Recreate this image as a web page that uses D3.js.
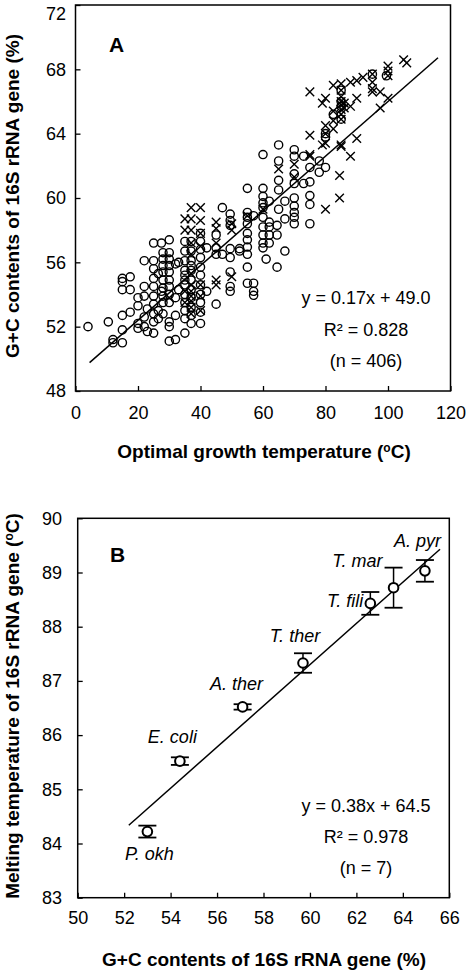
<!DOCTYPE html>
<html>
<head>
<meta charset="utf-8">
<script src="https://cdn.jsdelivr.net/npm/d3@7"></script>
<style>
  html, body { margin: 0; padding: 0; background: #fff; }
  text { font-family: "Liberation Sans", Arial, sans-serif; fill: #000; }
</style>
</head>
<body>
<script>
// ---------------- DATA ----------------
// Panel A: optimal growth temperature (°C) vs G+C content (%)
// open circles: [temperature, [G+C values ...]]
const circlesA = [
  [4, [52.0]],
  [10.5, [52.3]],
  [12, [51.0, 51.2]],
  [15, [51.0, 51.8, 52.7, 54.3, 54.8, 55.0]],
  [17.5, [52.9, 54.3, 55.1]],
  [20, [51.9, 52.2, 53.3, 53.8]],
  [22, [56.1, 54.5, 53.9, 52.6, 52.0]],
  [23, [51.7, 53.1]],
  [25, [57.2, 56.1, 55.6, 55.0, 54.5, 53.9, 53.4, 52.8, 52.3, 51.6]],
  [26.5, [53.0, 55.3, 52.5]],
  [27.5, [57.2, 54.2]],
  [28, [56.6, 56.2, 55.8, 55.4, 54.9, 54.4, 53.9, 53.5, 52.8]],
  [30, [57.4, 56.6, 56.2, 55.8, 55.4, 54.9, 54.5, 54.0, 53.5, 52.3, 52.0, 51.1]],
  [32, [51.2, 53.8, 52.7, 55.9]],
  [33, [56.0, 54.3]],
  [35, [57.3, 56.7, 56.1, 55.5, 54.9, 54.6, 54.0, 53.5, 53.0, 52.5, 51.6, 55.2]],
  [37, [57.3, 56.7, 56.1, 55.5, 54.9, 54.3, 53.8, 53.2, 52.7, 52.2, 55.8]],
  [40, [57.3, 56.8, 56.3, 55.7, 55.2, 54.6, 54.0, 53.5, 52.9, 52.2, 57.8]],
  [42, [56.9, 54.2]],
  [45, [57.7, 56.9, 53.4, 56.5]],
  [47, [59.4, 56.5]],
  [49.5, [59.0, 58.6, 58.3, 56.3, 55.4, 54.5, 54.2, 56.85]],
  [52.5, [56.85, 56.7]],
  [55, [60.6, 59.1, 58.8, 58.4, 57.8, 57.4, 56.95, 56.5, 55.7, 54.7]],
  [57, [58.9, 54.7, 54.2, 53.95]],
  [60, [62.7, 60.6, 60.1, 59.7, 59.4, 58.8, 58.2, 57.7, 57.2, 56.9]],
  [61, [56.2]],
  [62, [59.8, 58.5, 58.2, 57.7, 57.2]],
  [64.5, [55.7, 58.3, 57.7]],
  [65, [63.3, 62.3, 61.1, 60.5, 59.3]],
  [67, [59.8, 58.7, 56.7]],
  [70, [63.0, 62.6, 61.5, 60.9, 60.0, 59.5, 59.1, 58.8, 58.4]],
  [73, [62.6, 60.9]],
  [75, [61.9, 61.0, 60.15, 59.6, 58.4]],
  [78, [62.3, 61.6]],
  [80, [61.9, 64.0, 63.8]],
  [82.5, [65.2]],
  [85, [66.7, 64.9, 65.7, 66.0]],
  [95, [67.7]],
  [99.5, [67.6]]
];
// crosses: [temperature, [G+C values ...]]
const crossesA = [
  [30, [53.8]],
  [35, [58.7, 58.0, 54.2, 53.5]],
  [37, [59.4, 58.7, 58.0, 57.2, 56.5, 55.3, 54.6, 54.2, 53.9, 53.6, 53.2, 52.8]],
  [40, [59.4, 58.6, 57.8, 57.0, 54.6, 53.9, 53.0]],
  [45, [58.5, 58.1, 57.2, 54.6, 54.9]],
  [50, [58.4, 58.0, 55.1]],
  [55, [58.9]],
  [60, [59.3]],
  [65, [61.8]],
  [70, [61.3, 62.1]],
  [75, [66.6, 63.9, 62.7, 62.6]],
  [79, [65.9, 63.3]],
  [80, [64.0, 64.5, 59.3, 66.2, 63.4]],
  [82.5, [65.4, 64.8, 64.3, 67.0]],
  [84.5, [61.4, 60.0]],
  [85, [67.1, 66.0, 65.8, 65.5, 65.2, 66.3, 63.3, 63.2, 64.9, 66.7]],
  [86, [65.9, 65.6]],
  [88, [67.2, 62.6, 65.7]],
  [90, [67.3, 63.7, 66.2]],
  [92, [67.5]],
  [95, [67.7, 66.6, 67.2, 66.8]],
  [97.5, [66.6, 65.6]],
  [100, [68.2, 67.6, 66.2, 67.9]],
  [105, [68.6]],
  [106, [68.4]]
];
const fitA = { slope: 0.17, intercept: 49.0, xFrom: 4.5, xTo: 116 };
const statsA = ["y = 0.17x + 49.0", "R\u00B2 = 0.828", "(n = 406)"];
const xTicksA = [0, 20, 40, 60, 80, 100, 120];
const yTicksA = [48, 52, 56, 60, 64, 68, 72];

// Panel B: G+C content (%) vs melting temperature (°C) of 16S rRNA gene
const namesB = ["P. okh", "E. coli", "A. ther", "T. ther", "T. fili", "T. mar", "A. pyr"];
const gcB    = [53.0, 54.4, 57.1, 59.7, 62.6, 63.6, 64.95];
const tmB    = [84.22, 85.52, 86.52, 87.33, 88.43, 88.72, 89.03];
const errB   = [0.11, 0.07, 0.05, 0.18, 0.21, 0.37, 0.20];
const fitB = { slope: 0.38, intercept: 64.5, xFrom: 52.2, xTo: 65.6 };
const statsB = ["y = 0.38x + 64.5", "R\u00B2 = 0.978", "(n = 7)"];
const xTicksB = [50, 52, 54, 56, 58, 60, 62, 64, 66];
const yTicksB = [83, 84, 85, 86, 87, 88, 89, 90];

// ---------------- LAYOUT ----------------
// label placement relative to each point (px): [dx, dy, anchor]
const labelPosB = [
  [2, 28, "middle"], [-7.5, -18, "middle"], [-6, -17, "middle"], [-8, -21, "middle"],
  [-7, 4, "end"], [-11, -21, "end"], [-7.5, -24, "middle"]
];

const svg = d3.select("body").append("svg")
  .attr("width", 466).attr("height", 973);

const xA = d3.scaleLinear().domain([0, 120]).range([75.5, 450.5]);
const yA = d3.scaleLinear().domain([48, 72]).range([391, 5]);
const xB = d3.scaleLinear().domain([50, 66]).range([77.7, 449.3]);
const yB = d3.scaleLinear().domain([83, 90]).range([897.7, 518.3]);

function drawAxes(x, y, xt, yt, xPad, yPad) {
  const [x0, x1] = x.range();
  const [y0, y1] = y.range();
  const fmt = d3.format("d");
  const gx = svg.append("g").attr("transform", `translate(0,${y0})`)
    .call(d3.axisBottom(x).tickValues(xt).tickFormat(fmt).tickSizeInner(-5).tickSizeOuter(0).tickPadding(xPad));
  const gy = svg.append("g").attr("transform", `translate(${x0},0)`)
    .call(d3.axisLeft(y).tickValues(yt).tickFormat(fmt).tickSizeInner(-5).tickSizeOuter(0).tickPadding(yPad));
  [gx, gy].forEach(g => {
    g.select(".domain").remove();
    g.selectAll(".tick line").attr("stroke", "#000").attr("stroke-width", 1.3);
    g.selectAll(".tick text").attr("font-size", 18).attr("font-family", "Liberation Sans, Arial, sans-serif").attr("fill", "#000");
  });
  svg.append("rect").attr("x", x0).attr("y", y1).attr("width", x1 - x0).attr("height", y0 - y1)
    .attr("fill", "none").attr("stroke", "#000").attr("stroke-width", 1.5);
  return gy;
}

// ---------------- PANEL A ----------------
const gyA = drawAxes(xA, yA, xTicksA, yTicksA, 15, 9.5);
// the top label sits slightly lower so it stays inside the figure
gyA.selectAll(".tick text").filter(d => d === 72).attr("dy", "0.32em").attr("y", 9);

const ptsC = circlesA.flatMap(([t, arr]) => arr.map(g => [t, g]));
const ptsX = crossesA.flatMap(([t, arr]) => arr.map(g => [t, g]));

svg.append("g").selectAll("circle").data(ptsC).join("circle")
  .attr("cx", d => xA(d[0])).attr("cy", d => yA(d[1])).attr("r", 4.1)
  .attr("fill", "none").attr("stroke", "#000").attr("stroke-width", 1.4);

svg.append("g").selectAll("path").data(ptsX).join("path")
  .attr("transform", d => `translate(${xA(d[0])},${yA(d[1])})`)
  .attr("d", "M-4.3,-4.3L4.3,4.3M-4.3,4.3L4.3,-4.3")
  .attr("stroke", "#000").attr("stroke-width", 1.4).attr("fill", "none");

svg.append("line")
  .attr("x1", xA(fitA.xFrom)).attr("y1", yA(fitA.slope * fitA.xFrom + fitA.intercept))
  .attr("x2", xA(fitA.xTo)).attr("y2", yA(fitA.slope * fitA.xTo + fitA.intercept))
  .attr("stroke", "#000").attr("stroke-width", 1.5);

svg.append("text").attr("x", 109).attr("y", 52).attr("font-size", 21).attr("font-weight", "bold").text("A");

statsA.forEach((s, i) => {
  svg.append("text").attr("x", 366).attr("y", 304 + i * 31.5).attr("text-anchor", "middle")
    .attr("font-size", 18).text(s);
});

// titles A
const xtA = svg.append("text").attr("x", 264).attr("y", 458).attr("text-anchor", "middle")
  .attr("font-size", 19).attr("font-weight", "bold");
xtA.append("tspan").text("Optimal growth temperature (");
xtA.append("tspan").attr("font-size", 12).attr("dy", -6).text("o");
xtA.append("tspan").attr("dy", 6).text("C)");

svg.append("text").attr("transform", "translate(19,196) rotate(-90)").attr("text-anchor", "middle")
  .attr("font-size", 19).attr("font-weight", "bold").text("G+C contents of 16S rRNA gene (%)");

// ---------------- PANEL B ----------------
drawAxes(xB, yB, xTicksB, yTicksB, 13.5, 15.7);

svg.append("line")
  .attr("x1", xB(fitB.xFrom)).attr("y1", yB(fitB.slope * fitB.xFrom + fitB.intercept))
  .attr("x2", xB(fitB.xTo)).attr("y2", yB(fitB.slope * fitB.xTo + fitB.intercept))
  .attr("stroke", "#000").attr("stroke-width", 1.5);

const idx = d3.range(gcB.length);
const gB = svg.append("g");
idx.forEach(i => {
  const cx = xB(gcB[i]);
  const yt = yB(tmB[i] + errB[i]), yb = yB(tmB[i] - errB[i]);
  gB.append("line").attr("x1", cx).attr("x2", cx).attr("y1", yt).attr("y2", yb)
    .attr("stroke", "#000").attr("stroke-width", 1.5);
  [yt, yb].forEach(yy => gB.append("line").attr("x1", cx - 9).attr("x2", cx + 9)
    .attr("y1", yy).attr("y2", yy).attr("stroke", "#000").attr("stroke-width", 1.8));
});
gB.selectAll("circle").data(idx).join("circle")
  .attr("cx", i => xB(gcB[i])).attr("cy", i => yB(tmB[i])).attr("r", 4.8)
  .attr("fill", "#fff").attr("stroke", "#000").attr("stroke-width", 2);

gB.selectAll("text.lab").data(idx).join("text").attr("class", "lab")
  .attr("x", i => xB(gcB[i]) + labelPosB[i][0])
  .attr("y", i => yB(tmB[i]) + labelPosB[i][1])
  .attr("text-anchor", i => labelPosB[i][2])
  .attr("font-size", 18).attr("font-style", "italic")
  .text(i => namesB[i]);

svg.append("text").attr("x", 110).attr("y", 562).attr("font-size", 21).attr("font-weight", "bold").text("B");

statsB.forEach((s, i) => {
  svg.append("text").attr("x", 366).attr("y", 812 + i * 31).attr("text-anchor", "middle")
    .attr("font-size", 18).text(s);
});

svg.append("text").attr("x", 264).attr("y", 966).attr("text-anchor", "middle")
  .attr("font-size", 19).attr("font-weight", "bold").text("G+C contents of 16S rRNA gene (%)");

const ytB = svg.append("text").attr("transform", "translate(19,706) rotate(-90)").attr("text-anchor", "middle")
  .attr("font-size", 19).attr("font-weight", "bold");
ytB.append("tspan").text("Melting temperature of 16S rRNA gene (");
ytB.append("tspan").attr("font-size", 12).attr("dy", -6).text("o");
ytB.append("tspan").attr("dy", 6).text("C)");
</script>
</body>
</html>
